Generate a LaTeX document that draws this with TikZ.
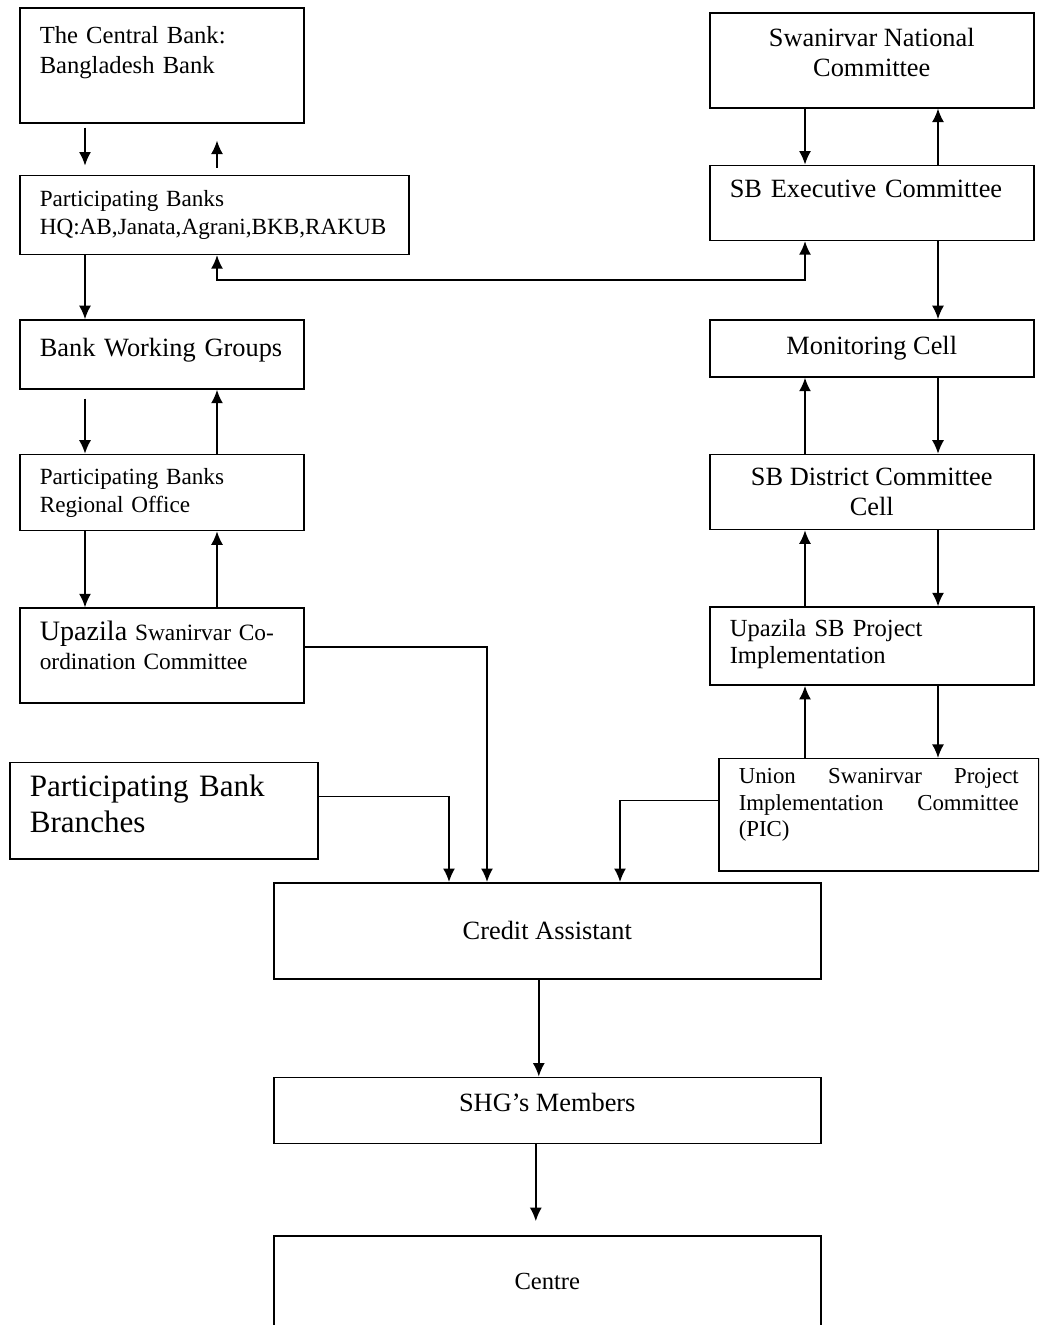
\documentclass[tikz,border=0pt]{standalone}
\usepackage{fontspec}
\setmainfont{Liberation Serif}
\usetikzlibrary{shapes,arrows.meta,positioning}

\newcommand{\szmain}{\fontsize{15pt}{17pt}\selectfont}
\newcommand{\szsmall}{\fontsize{13.2pt}{16pt}\selectfont}
\newcommand{\szbig}{\fontsize{17.7pt}{21pt}\selectfont}
\newcommand{\lift}[1]{\\[#1]\mbox{}}

\begin{document}
\begin{tikzpicture}[node distance=1.2cm, every node/.style={font=\szmain}, >={Latex[length=0.27cm,width=0.24cm]}, line width=0.9pt]
\tikzstyle{box}=[draw,rectangle,inner xsep=0.4cm,inner ysep=2pt,align=center]
\tikzstyle{lbox}=[box,align=left]
\useasboundingbox (0,0) rectangle (20.78,-26.5);
\clip (0,0) rectangle (20.78,-26.5);

\node[lbox,text width=4.88cm,minimum height=2.30cm,anchor=north west,font=\fontsize{14pt}{17pt}\selectfont] (cbank) at (0.38,-0.14) {The Central Bank:\\Bangladesh Bank\\\mbox{}};
\node[lbox,text width=6.98cm,minimum height=1.58cm,font=\szsmall,below=1.02cm of cbank.south west,anchor=north west] (hq) {Participating Banks\\HQ:AB,Janata,Agrani,BKB,RAKUB};
\node[lbox,text width=4.88cm,minimum height=1.38cm,below=1.28cm of hq.south west,anchor=north west] (bwg) {Bank Working Groups\lift{-9pt}};
\node[lbox,text width=4.88cm,minimum height=1.52cm,font=\szsmall,below=1.28cm of bwg.south west,anchor=north west] (reg) {Participating Banks\\Regional Office};
\node[lbox,text width=4.88cm,minimum height=1.90cm,font=\fontsize{13.3pt}{16.4pt}\selectfont,below=1.52cm of reg.south west,anchor=north west] (ucc) {{\fontsize{16pt}{16.4pt}\selectfont Upazila} Swanirvar Co-\\ordination Committee\lift{-5pt}};
\node[lbox,text width=5.36cm,minimum height=1.92cm,font=\szbig,below=1.16cm of ucc.south west,anchor=north west,xshift=-0.2cm] (pbb) {Participating Bank\\Branches\lift{-13pt}};

\node[box,minimum width=6.48cm,minimum height=1.90cm,anchor=north west] (natc) at (14.18,-0.24) {Swanirvar National\\Committee\lift{-8pt}};
\node[lbox,text width=5.68cm,minimum height=1.50cm,below=1.12cm of natc.south west,anchor=north west] (exec) {SB Executive Committee\lift{-1.5pt}};
\node[box,minimum width=6.48cm,minimum height=1.14cm,below=1.56cm of exec.south west,anchor=north west] (mon) {Monitoring Cell};
\node[box,minimum width=6.48cm,minimum height=1.50cm,below=1.52cm of mon.south west,anchor=north west] (dist) {SB District Committee\\Cell};
\node[lbox,text width=5.68cm,minimum height=1.56cm,font=\fontsize{14pt}{15.3pt}\selectfont,below=1.52cm of dist.south west,anchor=north west] (usb) {Upazila SB Project\\Implementation\lift{-9.6pt}};
\node[lbox,text width=5.6cm,minimum height=2.24cm,font=\fontsize{13pt}{15pt}\selectfont,below=1.44cm of usb.south west,anchor=north west,xshift=0.18cm] (pic) {Union\hfill Swanirvar\hfill Project\\Implementation\hfill Committee\\(PIC)\lift{-1.4pt}};

\node[box,minimum width=10.94cm,minimum height=1.92cm,anchor=north west] (ca) at (5.46,-17.64) {Credit Assistant};
\node[box,minimum width=10.94cm,minimum height=1.32cm,below=1.94cm of ca] (shg) {SHG’s Members\lift{-8pt}};
\node[box,minimum width=10.94cm,minimum height=1.96cm,below=1.82cm of shg,font=\fontsize{14pt}{17pt}\selectfont] (centre) {Centre\lift{-12.5pt}};

\draw[->,shorten <=0.08cm,shorten >=0.18cm] ([xshift=1.32cm]cbank.south west) -- ([xshift=1.32cm]hq.north west);
\draw[->,shorten <=0.14cm,shorten >=0.34cm] ([xshift=3.96cm]hq.north west) -- ([xshift=3.96cm]cbank.south west);
\draw[->] ([xshift=1.32cm]hq.south west) -- ([xshift=1.32cm]bwg.north west);
\draw[<->] ([xshift=3.96cm]hq.south west) -- ++(0,-0.5) -| ([xshift=1.92cm]exec.south west);
\draw[->,shorten <=0.18cm] ([xshift=1.32cm]bwg.south west) -- ([xshift=1.32cm]reg.north west);
\draw[->] ([xshift=3.96cm]reg.north west) -- ([xshift=3.96cm]bwg.south west);
\draw[->] ([xshift=1.32cm]reg.south west) -- ([xshift=1.32cm]ucc.north west);
\draw[->] ([xshift=3.96cm]ucc.north west) -- ([xshift=3.96cm]reg.south west);

\draw[->] ([xshift=1.92cm]natc.south west) -- ([xshift=1.92cm]exec.north west);
\draw[->] ([xshift=4.58cm]exec.north west) -- ([xshift=4.58cm]natc.south west);
\draw[->] ([xshift=4.58cm]exec.south west) -- ([xshift=4.58cm]mon.north west);
\draw[->] ([xshift=4.58cm]mon.south west) -- ([xshift=4.58cm]dist.north west);
\draw[->] ([xshift=1.92cm]dist.north west) -- ([xshift=1.92cm]mon.south west);
\draw[->] ([xshift=4.58cm]dist.south west) -- ([xshift=4.58cm]usb.north west);
\draw[->] ([xshift=1.92cm]usb.north west) -- ([xshift=1.92cm]dist.south west);
\draw[->] ([xshift=4.58cm]usb.south west) -- ([xshift=4.40cm]pic.north west);
\draw[->] ([xshift=1.74cm]pic.north west) -- ([xshift=1.92cm]usb.south west);

\draw[->] ([yshift=0.17cm]ucc.east) -| ([xshift=4.28cm]ca.north west);
\draw[->] ([yshift=0.28cm]pbb.east) -| ([xshift=3.52cm]ca.north west);
\draw[->] ([yshift=0.28cm]pic.west) -| ([xshift=6.94cm]ca.north west);
\draw[->] ([xshift=-0.17cm]ca.south) -- ([xshift=-0.17cm]shg.north);
\draw[->,shorten >=0.28cm] ([xshift=-0.23cm]shg.south) -- ([xshift=-0.23cm]centre.north);
\end{tikzpicture}
\end{document}
